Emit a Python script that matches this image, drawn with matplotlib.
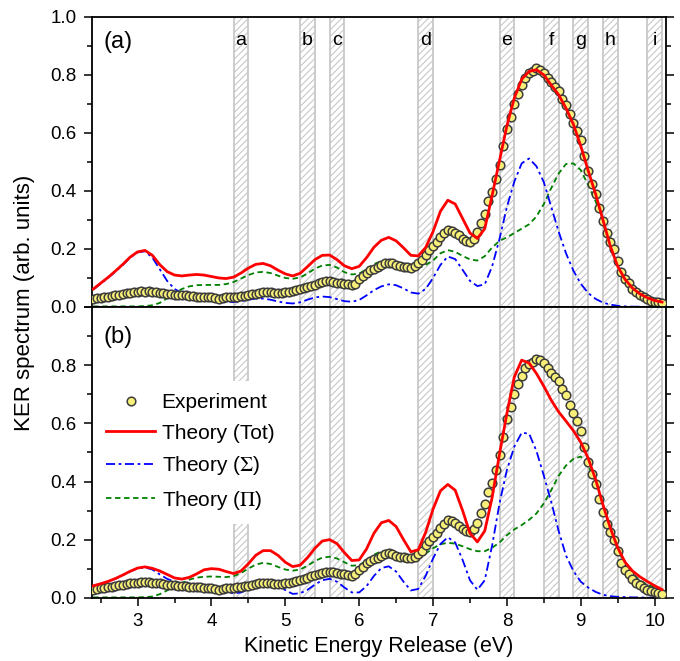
import matplotlib
matplotlib.use("Agg")
import matplotlib.pyplot as plt
import numpy as np
from matplotlib.lines import Line2D

plt.rcParams["font.family"] = ["Liberation Sans", "DejaVu Sans"]
plt.rcParams["mathtext.fontset"] = "stix"
plt.rcParams["hatch.color"] = "#c8c8c8"
plt.rcParams["hatch.linewidth"] = 0.8

# theory grid (eV) and experimental grid (eV)
E_THEORY = np.round(np.arange(78) * 0.1 + 2.4, 2)
E_EXP = np.round(np.arange(155) * 0.05 + 2.4, 2)

exp_ker = [
    0.028, 0.030, 0.032, 0.034, 0.036, 0.038, 0.040, 0.042, 0.045, 0.047,
    0.049, 0.050, 0.052, 0.054, 0.053, 0.054, 0.052, 0.050, 0.049, 0.047,
    0.045, 0.043, 0.042, 0.040, 0.041, 0.040, 0.038, 0.037, 0.036, 0.036,
    0.035, 0.034, 0.034, 0.030, 0.026, 0.030, 0.033, 0.034, 0.035, 0.036,
    0.037, 0.039, 0.041, 0.043, 0.046, 0.049, 0.051, 0.052, 0.050, 0.048,
    0.047, 0.048, 0.050, 0.052, 0.055, 0.058, 0.061, 0.065, 0.069, 0.073,
    0.077, 0.081, 0.085, 0.088, 0.090, 0.087, 0.084, 0.082, 0.080, 0.078,
    0.075, 0.080, 0.095, 0.107, 0.118, 0.126, 0.132, 0.138, 0.145, 0.150,
    0.153, 0.150, 0.145, 0.141, 0.139, 0.137, 0.136, 0.140, 0.150, 0.162,
    0.180, 0.195, 0.210, 0.224, 0.240, 0.255, 0.266, 0.263, 0.256, 0.247,
    0.235, 0.228, 0.225, 0.236, 0.258, 0.290, 0.322, 0.365, 0.395, 0.440,
    0.490, 0.555, 0.615, 0.655, 0.700, 0.735, 0.765, 0.790, 0.805, 0.812,
    0.823, 0.818, 0.808, 0.790, 0.775, 0.760, 0.745, 0.718, 0.698, 0.665,
    0.635, 0.608, 0.575, 0.520, 0.468, 0.425, 0.390, 0.340, 0.295, 0.255,
    0.225, 0.200, 0.160, 0.120, 0.097, 0.082, 0.063, 0.050, 0.042, 0.033,
    0.026, 0.022, 0.018, 0.016, 0.014,
]

# panel (a)
tot_a = [
    0.062, 0.082, 0.102, 0.124, 0.147, 0.172, 0.190, 0.195, 0.178, 0.146,
    0.122, 0.110, 0.107, 0.110, 0.112, 0.110, 0.105, 0.100, 0.098, 0.103,
    0.117, 0.134, 0.147, 0.150, 0.142, 0.127, 0.114, 0.107, 0.116, 0.139,
    0.163, 0.178, 0.179, 0.163, 0.142, 0.132, 0.140, 0.170, 0.206, 0.230,
    0.240, 0.228, 0.204, 0.178, 0.176, 0.205, 0.260, 0.330, 0.368, 0.355,
    0.305, 0.255, 0.236, 0.270, 0.385, 0.505, 0.625, 0.720, 0.785, 0.812,
    0.818, 0.800, 0.765, 0.732, 0.685, 0.630, 0.555, 0.470, 0.390, 0.300,
    0.210, 0.140, 0.095, 0.065, 0.045, 0.032, 0.022, 0.017,
]
sig_a = [
    0.060, 0.080, 0.100, 0.122, 0.145, 0.170, 0.188, 0.192, 0.170, 0.130,
    0.090, 0.062, 0.048, 0.042, 0.038, 0.033, 0.028, 0.022, 0.018, 0.017,
    0.020, 0.025, 0.029, 0.029, 0.025, 0.019, 0.014, 0.012, 0.016, 0.025,
    0.033, 0.036, 0.034, 0.027, 0.020, 0.018, 0.024, 0.040, 0.058, 0.071,
    0.078, 0.075, 0.064, 0.050, 0.046, 0.062, 0.100, 0.145, 0.174, 0.165,
    0.128, 0.090, 0.072, 0.078, 0.140, 0.235, 0.345, 0.432, 0.495, 0.512,
    0.485, 0.430, 0.345, 0.260, 0.185, 0.125, 0.080, 0.048, 0.028, 0.015,
    0.008, 0.004, 0.002, 0.001, 0.001, 0.000, 0.000, 0.000,
]
pi_a = [
    0.002, 0.002, 0.002, 0.002, 0.002, 0.002, 0.002, 0.003, 0.006, 0.014,
    0.030, 0.048, 0.062, 0.071, 0.075, 0.076, 0.076, 0.076, 0.079, 0.086,
    0.098, 0.110, 0.119, 0.121, 0.117, 0.108, 0.100, 0.097, 0.102, 0.115,
    0.132, 0.143, 0.145, 0.136, 0.120, 0.112, 0.115, 0.130, 0.148, 0.158,
    0.160, 0.152, 0.140, 0.130, 0.133, 0.145, 0.160, 0.185, 0.196, 0.190,
    0.176, 0.164, 0.160, 0.175, 0.205, 0.228, 0.240, 0.255, 0.270, 0.285,
    0.312, 0.355, 0.410, 0.460, 0.493, 0.495, 0.472, 0.420, 0.365, 0.290,
    0.205, 0.138, 0.093, 0.063, 0.043, 0.031, 0.021, 0.016,
]

# panel (b)
tot_b = [
    0.041, 0.048, 0.056, 0.066, 0.078, 0.091, 0.102, 0.106, 0.101, 0.092,
    0.080, 0.068, 0.064, 0.070, 0.082, 0.096, 0.100, 0.098, 0.090, 0.083,
    0.092, 0.117, 0.146, 0.162, 0.162, 0.146, 0.122, 0.107, 0.112, 0.138,
    0.170, 0.195, 0.200, 0.186, 0.155, 0.128, 0.130, 0.168, 0.222, 0.258,
    0.266, 0.245, 0.200, 0.158, 0.165, 0.225, 0.305, 0.368, 0.390, 0.370,
    0.300, 0.222, 0.192, 0.230, 0.345, 0.495, 0.635, 0.760, 0.818, 0.808,
    0.772, 0.728, 0.680, 0.640, 0.608, 0.575, 0.535, 0.480, 0.408, 0.320,
    0.240, 0.172, 0.122, 0.092, 0.072, 0.056, 0.041, 0.028,
]
sig_b = [
    0.040, 0.047, 0.055, 0.065, 0.077, 0.090, 0.101, 0.104, 0.097, 0.080,
    0.065, 0.055, 0.047, 0.043, 0.040, 0.037, 0.033, 0.027, 0.020, 0.015,
    0.018, 0.028, 0.040, 0.050, 0.052, 0.042, 0.026, 0.013, 0.015, 0.027,
    0.045, 0.060, 0.065, 0.055, 0.035, 0.018, 0.018, 0.040, 0.075, 0.102,
    0.108, 0.090, 0.055, 0.025, 0.030, 0.075, 0.135, 0.185, 0.208, 0.190,
    0.130, 0.060, 0.027, 0.060, 0.180, 0.325, 0.440, 0.520, 0.568, 0.565,
    0.505, 0.420, 0.330, 0.230, 0.145, 0.092, 0.055, 0.035, 0.020, 0.010,
    0.005, 0.003, 0.002, 0.001, 0.001, 0.000, 0.000, 0.000,
]
pi_b = [
    0.001, 0.001, 0.001, 0.001, 0.001, 0.001, 0.001, 0.002, 0.004, 0.012,
    0.025, 0.036, 0.050, 0.062, 0.069, 0.072, 0.073, 0.072, 0.071, 0.074,
    0.085, 0.100, 0.114, 0.120, 0.116, 0.106, 0.097, 0.093, 0.097, 0.110,
    0.126, 0.138, 0.141, 0.135, 0.122, 0.110, 0.112, 0.128, 0.148, 0.160,
    0.163, 0.157, 0.144, 0.136, 0.138, 0.152, 0.170, 0.184, 0.189, 0.186,
    0.177, 0.167, 0.160, 0.160, 0.172, 0.190, 0.215, 0.235, 0.250, 0.268,
    0.290, 0.325, 0.370, 0.420, 0.455, 0.478, 0.486, 0.455, 0.400, 0.320,
    0.235, 0.165, 0.115, 0.082, 0.060, 0.045, 0.035, 0.028,
]

# marked energy windows (eV)
band_labels = ["a", "b", "c", "d", "e", "f", "g", "h", "i"]
band_lo = [4.3, 5.2, 5.6, 6.8, 7.9, 8.5, 8.9, 9.3, 9.9]
band_hi = [4.5, 5.4, 5.8, 7.0, 8.1, 8.7, 9.1, 9.5, 10.1]

EXP_STYLE = dict(linestyle="none", marker="o", ms=6.2, mfc="#f7ef78",
                 mec="#3c3c3c", mew=1.1)


def draw_panel(ax, tot, sig, pi):
    for lo, hi in zip(band_lo, band_hi):
        ax.axvspan(lo, hi, facecolor="none", edgecolor="#c8c8c8",
                   hatch="/////", lw=1.3, zorder=0)
    ax.plot(E_THEORY, pi, color="#008000", lw=1.3, dashes=(3, 2), zorder=2)
    ax.plot(E_THEORY, sig, color="#0000ff", lw=1.3, dashes=(5, 2, 1.5, 2),
            zorder=2)
    ax.plot(E_EXP, exp_ker, zorder=3, **EXP_STYLE)
    ax.plot(E_THEORY, tot, color="#ff0000", lw=2.0, zorder=4)
    ax.set_xlim(2.38, 10.15)
    ax.set_ylim(0, 1.0)
    ax.set_xticks(np.arange(3, 11, 1))
    ax.set_xticks(np.arange(2.5, 10.5, 0.5), minor=True)
    ax.set_yticks(np.arange(0, 1.01, 0.2))
    ax.set_yticks(np.arange(0, 1.01, 0.1), minor=True)
    ax.tick_params(which="both", direction="out", top=False, right=True,
                   width=1.1, labelsize=13.5, pad=5)
    ax.tick_params(which="major", length=6)
    ax.tick_params(which="minor", length=3.5)
    for sp in ax.spines.values():
        sp.set_linewidth(1.3)


fig = plt.figure(figsize=(6.8, 6.61), dpi=100)
ax1 = fig.add_axes([0.135, 0.5356, 0.844, 0.4388])
ax2 = fig.add_axes([0.135, 0.0958, 0.844, 0.4393])

draw_panel(ax1, tot_a, sig_a, pi_a)
draw_panel(ax2, tot_b, sig_b, pi_b)

ax1.tick_params(labelbottom=False)
ax1.set_yticklabels(["0.0", "0.2", "0.4", "0.6", "0.8", "1.0"])
ax2.set_yticklabels(["0.0", "0.2", "0.4", "0.6", "0.8", ""])

for lab, lo, hi in zip(band_labels, band_lo, band_hi):
    ax1.text((lo + hi) / 2, 0.92, lab, ha="center", va="center", fontsize=14)

ax1.text(0.02, 0.915, "(a)", transform=ax1.transAxes, fontsize=17,
         va="center", ha="left")
ax2.text(0.02, 0.898, "(b)", transform=ax2.transAxes, fontsize=17,
         va="center", ha="left")

ax2.set_xlabel("Kinetic Energy Release (eV)", fontsize=15.5, labelpad=4)
fig.text(0.036, 0.542, "KER spectrum (arb. units)", rotation=90,
         fontsize=16, ha="center", va="center")

handles = [
    Line2D([], [], **EXP_STYLE),
    Line2D([], [], color="#ff0000", lw=2.0),
    Line2D([], [], color="#0000ff", lw=1.3, dashes=(5, 2, 1.5, 2)),
    Line2D([], [], color="#008000", lw=1.3, dashes=(3, 2)),
]
labels = ["Experiment", "Theory (Tot)", r"Theory ($\Sigma$)", r"Theory ($\Pi$)"]
leg = ax2.legend(handles, labels, loc="upper left", bbox_to_anchor=(0.003, 0.747),
                 borderaxespad=0, fontsize=15, frameon=True, fancybox=False,
                 framealpha=1, handlelength=2.35, handletextpad=0.32,
                 labelspacing=0.55, borderpad=0.6)
leg.get_frame().set_edgecolor("none")
leg.get_frame().set_facecolor("white")

fig.savefig("out.png", dpi=100)
